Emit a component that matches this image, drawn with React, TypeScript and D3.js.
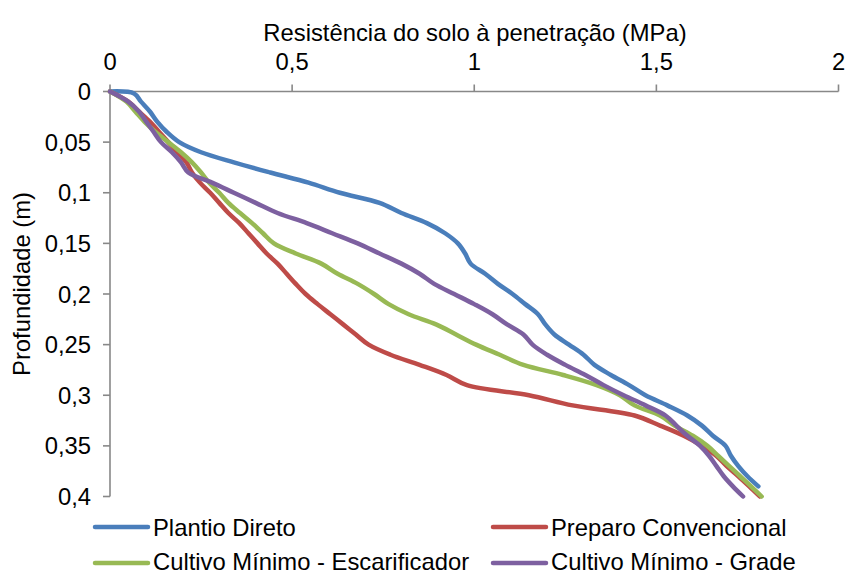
import React from "react";
import * as d3 from "d3";

const depths = [0, 0.01, 0.02, 0.03, 0.04, 0.05, 0.06, 0.07, 0.08, 0.09, 0.1, 0.11, 0.12, 0.13, 0.14, 0.15, 0.16, 0.17, 0.18, 0.19, 0.2, 0.21, 0.22, 0.23, 0.24, 0.25, 0.26, 0.27, 0.28, 0.29, 0.3, 0.31, 0.32, 0.33, 0.34, 0.35, 0.36, 0.37, 0.38, 0.39, 0.4];
const depthsPlantio = [0, 0.002, 0.01, 0.02, 0.03, 0.04, 0.05, 0.06, 0.07, 0.08, 0.09, 0.1, 0.11, 0.12, 0.13, 0.14, 0.15, 0.16, 0.17, 0.18, 0.19, 0.2, 0.21, 0.22, 0.23, 0.24, 0.25, 0.26, 0.27, 0.28, 0.29, 0.3, 0.31, 0.32, 0.33, 0.34, 0.35, 0.36, 0.37, 0.38, 0.39];

const plantioDireto = [0, 0.066, 0.085, 0.11, 0.13, 0.156, 0.19, 0.25, 0.34, 0.44, 0.545, 0.631, 0.74, 0.8, 0.87, 0.92, 0.955, 0.975, 0.99, 1.03, 1.065, 1.105, 1.14, 1.175, 1.195, 1.22, 1.26, 1.3, 1.33, 1.375, 1.425, 1.47, 1.53, 1.585, 1.625, 1.655, 1.69, 1.705, 1.725, 1.75, 1.78];
const preparoConvencional = [0, 0.05, 0.08, 0.11, 0.135, 0.16, 0.185, 0.21, 0.225, 0.247, 0.275, 0.3, 0.325, 0.355, 0.38, 0.405, 0.43, 0.46, 0.485, 0.51, 0.537, 0.57, 0.605, 0.64, 0.675, 0.71, 0.77, 0.85, 0.924, 0.98, 1.15, 1.27, 1.44, 1.51, 1.575, 1.625, 1.665, 1.693, 1.725, 1.755, 1.784];
const cultivoEscarificador = [0, 0.045, 0.07, 0.095, 0.125, 0.16, 0.195, 0.225, 0.25, 0.272, 0.3, 0.325, 0.357, 0.39, 0.42, 0.45, 0.51, 0.58, 0.625, 0.68, 0.725, 0.765, 0.82, 0.895, 0.95, 1.005, 1.07, 1.135, 1.244, 1.336, 1.4, 1.44, 1.51, 1.55, 1.6, 1.64, 1.67, 1.7, 1.73, 1.76, 1.789];
const cultivoGrade = [0, 0.05, 0.08, 0.1, 0.12, 0.14, 0.17, 0.195, 0.215, 0.28, 0.34, 0.4, 0.46, 0.54, 0.61, 0.68, 0.74, 0.8, 0.85, 0.89, 0.945, 1.0, 1.05, 1.09, 1.135, 1.16, 1.2, 1.25, 1.305, 1.355, 1.41, 1.47, 1.525, 1.555, 1.585, 1.62, 1.645, 1.665, 1.685, 1.71, 1.738];

const seriesNames = ["Plantio Direto", "Preparo Convencional", "Cultivo Mínimo - Escarificador", "Cultivo Mínimo - Grade"];
const seriesValues = [plantioDireto, preparoConvencional, cultivoEscarificador, cultivoGrade];
const seriesDepths = [depthsPlantio, depths, depths, depths];
const seriesColors = ["#4A7EBB", "#BE4B48", "#98B954", "#7D60A0"];

const xTicks = [0, 0.5, 1, 1.5, 2];
const yTicks = [0, 0.05, 0.1, 0.15, 0.2, 0.25, 0.3, 0.35, 0.4];

const fmt = (v: number) => String(+v.toFixed(2)).replace(".", ",");

export default function App() {
  const W = 848, H = 571;
  const x = d3.scaleLinear().domain([0, 2]).range([110, 838.5]);
  const y = d3.scaleLinear().domain([0, 0.4]).range([91.5, 496.5]);
  const line = d3
    .line<[number, number]>()
    .x((d) => x(d[0]))
    .y((d) => y(d[1]))
    .curve(d3.curveCatmullRom.alpha(0.5));
  const font = "Arial, 'Liberation Sans', sans-serif";
  const fs = 23.8;
  const axisColor = "#888888";
  const legendPos = [
    [95, 527, 535.5],
    [493, 527, 535.5],
    [95, 563, 569.5],
    [493, 563, 569.5],
  ];
  return (
    <svg width={W} height={H} style={{ position: "absolute", left: 0, top: 0, background: "#fff" }} fontFamily={font}>
      <rect width={W} height={H} fill="#fff" />
      <text x={475} y={41} fontSize={fs} textAnchor="middle" fill="#000">
        Resistência do solo à penetração (MPa)
      </text>
      <line x1={x(0)} x2={x(2)} y1={y(0)} y2={y(0)} stroke={axisColor} strokeWidth={1.6} />
      <line x1={x(0)} x2={x(0)} y1={y(0)} y2={y(0.4)} stroke={axisColor} strokeWidth={1.6} />
      {xTicks.map((t) => (
        <g key={"xt" + t}>
          <line x1={x(t)} x2={x(t)} y1={y(0)} y2={y(0) - 7} stroke={axisColor} strokeWidth={1.6} />
          <text x={x(t)} y={70} fontSize={fs} textAnchor="middle" fill="#000">
            {fmt(t)}
          </text>
        </g>
      ))}
      {yTicks.map((t) => (
        <g key={"yt" + t}>
          <line x1={x(0) - 7} x2={x(0)} y1={y(t)} y2={y(t)} stroke={axisColor} strokeWidth={1.6} />
          <text x={91} y={y(t) + 8.5} fontSize={fs} textAnchor="end" fill="#000">
            {fmt(t)}
          </text>
        </g>
      ))}
      <text
        transform={`translate(30, ${284}) rotate(-90)`}
        fontSize={fs}
        textAnchor="middle"
        fill="#000"
      >
        Profundidade (m)
      </text>
      {seriesValues.map((vals, i) => {
        const pts: [number, number][] = vals.map((v, j) => [v, seriesDepths[i][j]]);
        return (
          <path
            key={seriesNames[i]}
            d={line(pts) || ""}
            fill="none"
            stroke={seriesColors[i]}
            strokeWidth={4.5}
            strokeLinejoin="round"
            strokeLinecap="round"
          />
        );
      })}
      {seriesNames.map((n, i) => (
        <g key={"lg" + n}>
          <line
            x1={legendPos[i][0]}
            x2={legendPos[i][0] + 53}
            y1={legendPos[i][1]}
            y2={legendPos[i][1]}
            stroke={seriesColors[i]}
            strokeWidth={4.5}
            strokeLinecap="round"
          />
          <text x={legendPos[i][0] + 58} y={legendPos[i][2]} fontSize={fs} fill="#000">
            {n}
          </text>
        </g>
      ))}
    </svg>
  );
}
